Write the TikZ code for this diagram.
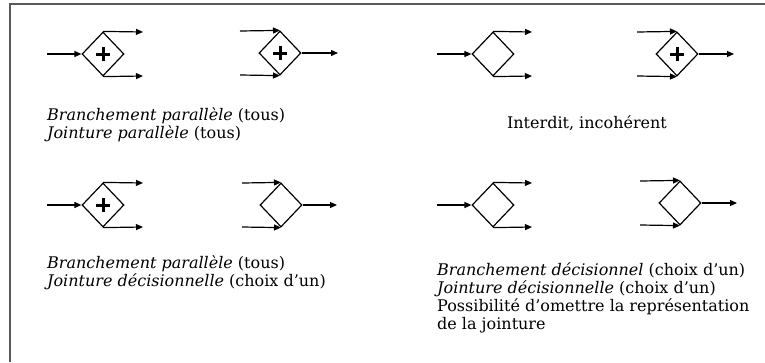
\documentclass[tikz,border=0pt]{standalone}
\usepackage{fontspec}
\setmainfont{DejaVu Serif}
\usetikzlibrary{shapes.geometric,arrows.meta}
\begin{document}
\begin{tikzpicture}[x=1pt,y=-1pt,
  gate/.style={diamond,draw,line width=1.2pt,minimum width=42pt,minimum height=44pt,inner sep=0pt},
  flow/.style={line width=1.2pt,-{Triangle[length=7pt,width=6pt]}},
  plus/.style={line width=3pt},
  lbl/.style={anchor=base west,inner sep=0pt,font=\fontsize{16}{19}\selectfont},
  frame/.style={draw=black!65,line width=2pt}]
\useasboundingbox (0,0) rectangle (765,362);
\coordinate (fb) at (10,362);
\coordinate (fc) at (10,4);
\coordinate (fr) at (765,4);
\draw[frame] (fb) -- (fc) -- (fr);

% D1 split parallel
\node[gate] (d1) at (103,54) {};
\coordinate (d1i) at (47,54);
\coordinate (d1a) at (143,32);
\coordinate (d1b) at (143,76);
\draw[flow] (d1i) -- (d1.west);
\draw[flow] (d1.north) -- (d1a);
\draw[flow] (d1.south) -- (d1b);
\draw[plus] ([xshift=-7pt]d1.center) -- ([xshift=7pt]d1.center) ([yshift=-7pt]d1.center) -- ([yshift=7pt]d1.center);

% D2 join parallel
\node[gate] (d2) at (280,53) {};
\coordinate (d2a) at (240,31);
\coordinate (d2b) at (240,75);
\coordinate (d2o) at (338,53);
\draw[flow] (d2a) -- (d2.north);
\draw[flow] (d2b) -- (d2.south);
\draw[flow] (d2.east) -- (d2o);
\draw[plus] ([xshift=-7pt]d2.center) -- ([xshift=7pt]d2.center) ([yshift=-7pt]d2.center) -- ([yshift=7pt]d2.center);

% D3 split decision
\node[gate] (d3) at (493,54) {};
\coordinate (d3i) at (437,54);
\coordinate (d3a) at (532,32);
\coordinate (d3b) at (532,76);
\draw[flow] (d3i) -- (d3.west);
\draw[flow] (d3.north) -- (d3a);
\draw[flow] (d3.south) -- (d3b);

% D4 join parallel
\node[gate] (d4) at (677,54) {};
\coordinate (d4a) at (637,32);
\coordinate (d4b) at (637,76);
\coordinate (d4o) at (734,54);
\draw[flow] (d4a) -- (d4.north);
\draw[flow] (d4b) -- (d4.south);
\draw[flow] (d4.east) -- (d4o);
\draw[plus] ([xshift=-7pt]d4.center) -- ([xshift=7pt]d4.center) ([yshift=-7pt]d4.center) -- ([yshift=7pt]d4.center);

% D5 split parallel
\node[gate] (d5) at (103,205) {};
\coordinate (d5i) at (47,205);
\coordinate (d5a) at (143,183);
\coordinate (d5b) at (143,227);
\draw[flow] (d5i) -- (d5.west);
\draw[flow] (d5.north) -- (d5a);
\draw[flow] (d5.south) -- (d5b);
\draw[plus] ([xshift=-7pt]d5.center) -- ([xshift=7pt]d5.center) ([yshift=-7pt]d5.center) -- ([yshift=7pt]d5.center);

% D6 join decision
\node[gate] (d6) at (281,205) {};
\coordinate (d6a) at (242,183);
\coordinate (d6b) at (242,227);
\coordinate (d6o) at (337,205);
\draw[flow] (d6a) -- (d6.north);
\draw[flow] (d6b) -- (d6.south);
\draw[flow] (d6.east) -- (d6o);

% D7 split decision
\node[gate] (d7) at (493,205) {};
\coordinate (d7i) at (437,205);
\coordinate (d7a) at (532,183);
\coordinate (d7b) at (532,227);
\draw[flow] (d7i) -- (d7.west);
\draw[flow] (d7.north) -- (d7a);
\draw[flow] (d7.south) -- (d7b);

% D8 join decision
\node[gate] (d8) at (680,203) {};
\coordinate (d8a) at (640,181);
\coordinate (d8b) at (640,225);
\coordinate (d8o) at (737,203);
\draw[flow] (d8a) -- (d8.north);
\draw[flow] (d8b) -- (d8.south);
\draw[flow] (d8.east) -- (d8o);

% labels
\node[lbl] (t1a) at (47,120) {\textit{Branchement parallèle} (tous)};
\node[lbl] (t1b) at (47,138) {\textit{Jointure parallèle} (tous)};
\node[lbl,anchor=base] (t2) at (587,128) {Interdit, incohérent};
\node[lbl] (t3a) at (47,268) {\textit{Branchement parallèle} (tous)};
\node[lbl] (t3b) at (47,286) {\textit{Jointure décisionnelle} (choix d’un)};
\node[lbl] (t4a) at (437,275) {\textit{Branchement décisionnel} (choix d’un)};
\node[lbl] (t4b) at (437,293) {\textit{Jointure décisionnelle} (choix d’un)};
\node[lbl] (t4c) at (437,311) {Possibilité d’omettre la représentation};
\node[lbl] (t4d) at (437,329) {de la jointure};
\end{tikzpicture}
\end{document}
